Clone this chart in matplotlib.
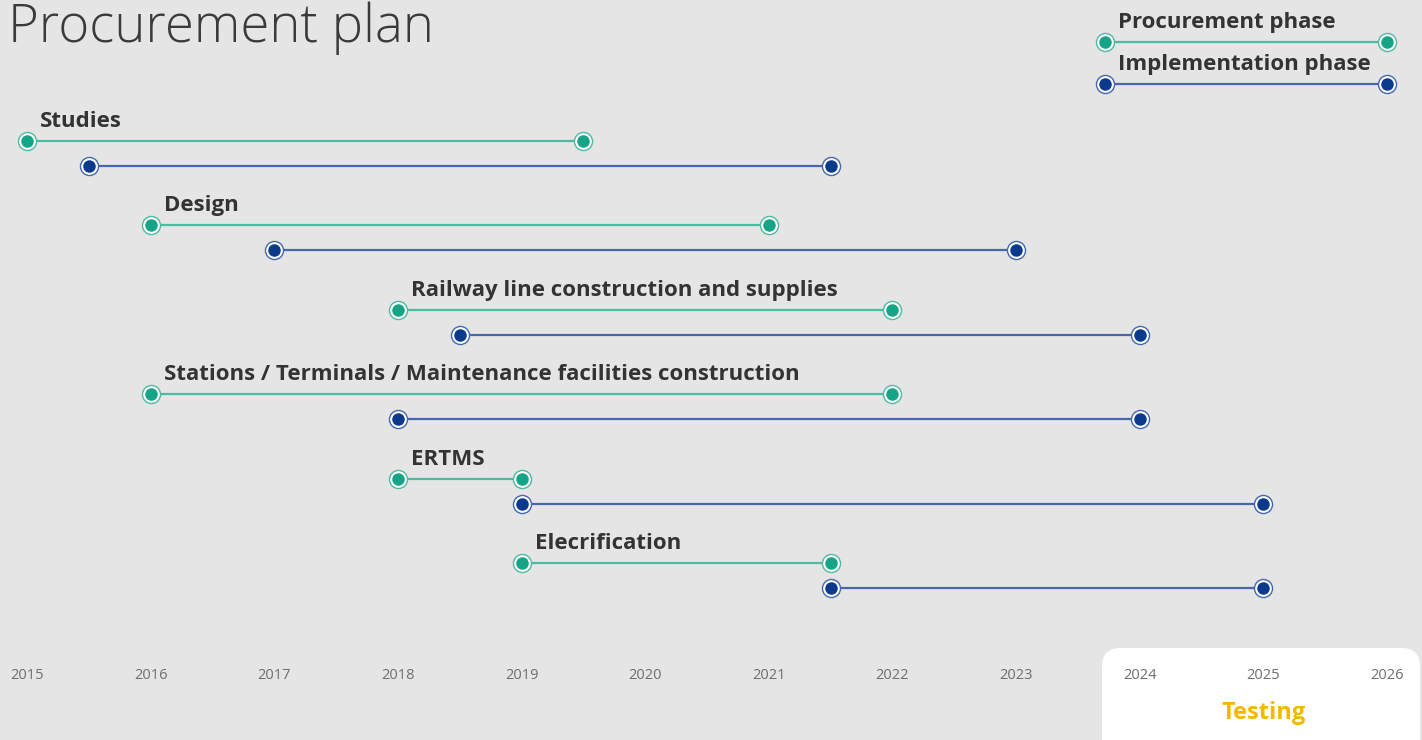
import matplotlib.pyplot as plt
from matplotlib.patches import FancyBboxPatch

# Données du planning (années)
taches = [
    "Studies",
    "Design",
    "Railway line construction and supplies",
    "Stations / Terminals / Maintenance facilities construction",
    "ERTMS",
    "Elecrification",
]
proc_debut = [2015.0, 2016.0, 2018.0, 2016.0, 2018.0, 2019.0]
proc_fin = [2019.5, 2021.0, 2022.0, 2022.0, 2019.0, 2021.5]
impl_debut = [2015.5, 2017.0, 2018.5, 2018.0, 2019.0, 2021.5]
impl_fin = [2021.5, 2023.0, 2024.0, 2024.0, 2025.0, 2025.0]
annees = list(range(2015, 2027))
legende = ["Procurement phase", "Implementation phase"]
legende_debut = 2023.72
legende_fin = 2026.0

BG = "#e5e5e5"
TEAL = "#16a487"
TEAL_LINE = "#4dbb9f"
NAVY = "#0b3a8c"
NAVY_LINE = "#4567ad"
TXT = "#333333"

plt.rcParams['font.family'] = ['Open Sans', 'DejaVu Sans']

fig = plt.figure(figsize=(14.22, 7.40), dpi=100, facecolor=BG)
ax = fig.add_axes([0, 0, 1, 1])
ax.set_facecolor(BG)
ax.set_xlim(2014.782, 2026.283)
ax.set_ylim(7.097, -1.671)
ax.axis('off')

# Encadré blanc "Testing"
boite = FancyBboxPatch((1102 / 1422, -0.1), 318 / 1422, 0.1 + 92 / 740,
                       boxstyle="round,pad=0,rounding_size=0.013",
                       transform=fig.transFigure, facecolor='white',
                       edgecolor='none', zorder=0.5,
                       mutation_aspect=1422 / 740)
ax.add_patch(boite)


def segment(x0, x1, y, couleur, couleur_ligne):
    ax.plot([x0, x1], [y, y], color=couleur_ligne, lw=1.6, zorder=2,
            solid_capstyle='butt')
    ax.plot([x0, x1], [y, y], ls='none', marker='o', ms=13, mfc='white',
            mec=couleur_ligne, mew=1.0, zorder=3)
    ax.plot([x0, x1], [y, y], ls='none', marker='o', ms=9, mfc=couleur,
            mec='none', zorder=4)


dy = 0.296  # décalage de la ligne implémentation
for i, nom in enumerate(taches):
    segment(proc_debut[i], proc_fin[i], i, TEAL, TEAL_LINE)
    segment(impl_debut[i], impl_fin[i], i + dy, NAVY, NAVY_LINE)
    ax.annotate(nom, (proc_debut[i], i), xytext=(13, 9),
                textcoords='offset pixels', fontsize=16, fontweight='bold',
                color=TXT, va='bottom', ha='left')

# Légende
ly = [-1.173, -0.675]
for y, nom, c, cl in zip(ly, legende, [TEAL, NAVY], [TEAL_LINE, NAVY_LINE]):
    segment(legende_debut, legende_fin, y, c, cl)
    ax.annotate(nom, (legende_debut, y), xytext=(13, 9),
                textcoords='offset pixels', fontsize=16, fontweight='bold',
                color=TXT, va='bottom', ha='left')

# Axe des années
for a in annees:
    ax.text(a, 6.327, str(a), fontsize=10.5, color='#6e6e6e', ha='center',
            va='center', zorder=5)

ax.text(2025, 6.772, "Testing", fontsize=17, fontweight='bold',
        color='#f5b800', ha='center', va='center', zorder=5)

fig.text(8 / 1422, 1 - 42 / 740, "Procurement plan", fontsize=38,
         fontweight='light', color='#3a3a3a', ha='left', va='baseline')

fig.savefig("out.png", dpi=100, facecolor=BG)
